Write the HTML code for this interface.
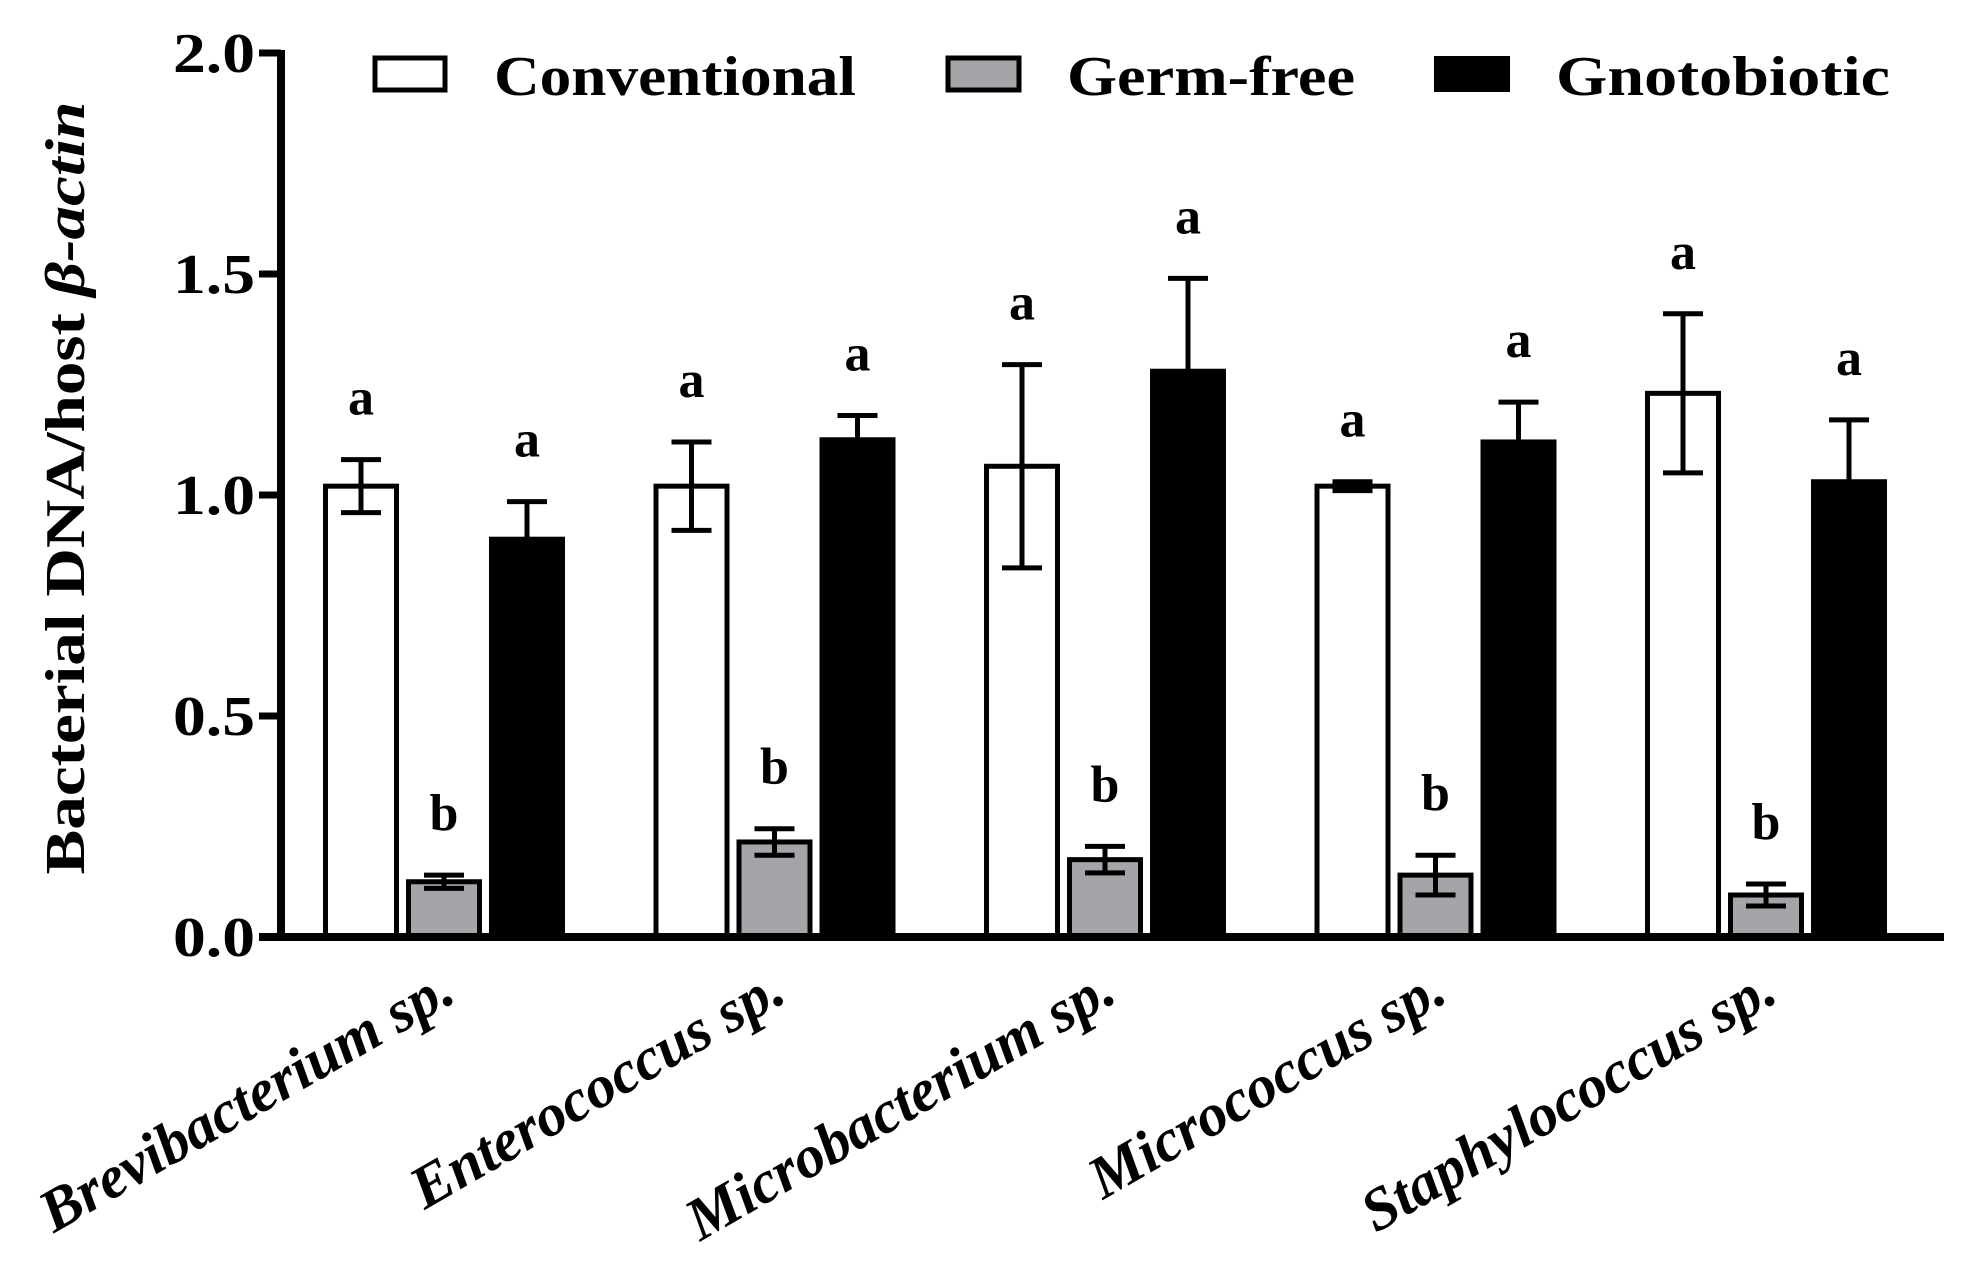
<!DOCTYPE html>
<html><head><meta charset="utf-8"><style>
html,body{margin:0;padding:0;background:#fff;}
svg{display:block;font-family:"Liberation Serif",serif;}
</style></head><body>
<svg id="chart" width="1976" height="1268" viewBox="0 0 1976 1268" xmlns="http://www.w3.org/2000/svg">
<g id="legend">
  <rect x="375" y="58" width="70" height="32" fill="#fff" stroke="#000" stroke-width="5"/>
  <text x="494" y="95" font-size="56" font-weight="bold" textLength="362" lengthAdjust="spacingAndGlyphs">Conventional</text>
  <rect x="948" y="58" width="71" height="32" fill="#a5a4a8" stroke="#000" stroke-width="5"/>
  <text x="1067" y="95" font-size="56" font-weight="bold" textLength="288" lengthAdjust="spacingAndGlyphs">Germ-free</text>
  <rect x="1434" y="56" width="76" height="36" fill="#000"/>
  <text x="1556" y="95" font-size="56" font-weight="bold" textLength="334" lengthAdjust="spacingAndGlyphs">Gnotobiotic</text>
</g>
<text transform="translate(84,488) rotate(-90)" text-anchor="middle" font-size="56" font-weight="bold" textLength="773" lengthAdjust="spacingAndGlyphs">Bacterial DNA/host <tspan font-style="italic">β-actin</tspan></text>
<g id="plot"></g>
</svg>
<script>
const categories = ["Brevibacterium sp.", "Enterococcus sp.", "Microbacterium sp.", "Micrococcus sp.", "Staphylococcus sp."];
const conventional = [1.02, 1.02, 1.065, 1.02, 1.23];
const conventionalErr = [0.06, 0.10, 0.23, 0.01, 0.18];
const germFree = [0.125, 0.215, 0.175, 0.14, 0.095];
const germFreeErr = [0.015, 0.03, 0.03, 0.045, 0.025];
const gnotobiotic = [0.90, 1.125, 1.28, 1.12, 1.03];
const gnotobioticErr = [0.085, 0.055, 0.21, 0.09, 0.14];
const conventionalLetters = ["a","a","a","a","a"];
const germFreeLetters = ["b","b","b","b","b"];
const gnotobioticLetters = ["a","a","a","a","a"];
const yTicks = [0, 0.5, 1.0, 1.5, 2.0];
const yTickLabels = ["0.0","0.5","1.0","1.5","2.0"];

const NS = "http://www.w3.org/2000/svg";
const plot = document.getElementById("plot");
const X0 = 281, Y0 = 937, YTOP = 53, AXEND = 1944;
function yScale(v){ return Y0 - v * (Y0 - YTOP) / 2; }
const groupStart = 323, groupStep = 330.5, barW = 76, barStep = 83;
function xBar(g, s){ return groupStart + g * groupStep + s * barStep; }
function mk(tag, attrs){ const e = document.createElementNS(NS, tag); for (const k in attrs) e.setAttribute(k, attrs[k]); plot.appendChild(e); return e; }

const series = [
  {vals: conventional, err: conventionalErr, letters: conventionalLetters, fill: "#fff", name: "conventional", both: true},
  {vals: germFree, err: germFreeErr, letters: germFreeLetters, fill: "#a5a4a8", name: "germ-free", both: true},
  {vals: gnotobiotic, err: gnotobioticErr, letters: gnotobioticLetters, fill: "#000", name: "gnotobiotic", both: false}
];
categories.forEach((c, g) => {
  series.forEach((s, si) => {
    const v = s.vals[g], x = xBar(g, si), yt = yScale(v);
    const r = mk("rect", {x: x + 2.5, y: yt, width: barW - 5, height: Y0 - yt, fill: s.fill, stroke: "#000", "stroke-width": 5});
    
    
    const cx = x + barW / 2, top = yScale(v + s.err[g]), bot = yScale(v - s.err[g]);
    const eb = mk("path", {d: `M${cx} ${top}V${s.both ? bot : yt}M${cx-20} ${top}H${cx+20}` + (s.both ? `M${cx-20} ${bot}H${cx+20}` : ""), stroke: "#000", "stroke-width": 5, fill: "none"});
    
    
    const t = mk("text", {x: cx, y: top - 45, "text-anchor": "middle", "font-size": 52, "font-weight": "bold"});
    t.textContent = s.letters[g];
    
    
  });
  const gc = xBar(g, 1) + barW / 2 + 14;
  const lab = mk("text", {transform: `translate(${gc},1000) rotate(-30)`, "text-anchor": "end", "font-size": 60, "font-weight": "bold", "font-style": "italic"});
  lab.textContent = c;
  
  
});
const yax = mk("path", {d: `M${X0} ${YTOP-3}V${Y0+4}`, stroke: "#000", "stroke-width": 8});


const xax = mk("path", {d: `M${X0-22} ${Y0}H${AXEND}`, stroke: "#000", "stroke-width": 8});


yTicks.forEach((t, i) => {
  const y = yScale(t);
  const tk = mk("path", {d: `M${X0-22} ${y}H${X0}`, stroke: "#000", "stroke-width": 7});
  
  
  const tl = mk("text", {x: 255, y: y + 19, "text-anchor": "end", "font-size": 56, "font-weight": "bold", textLength: 82, lengthAdjust: "spacingAndGlyphs"});
  tl.textContent = yTickLabels[i];
  
  
});
</script>
</body></html>
